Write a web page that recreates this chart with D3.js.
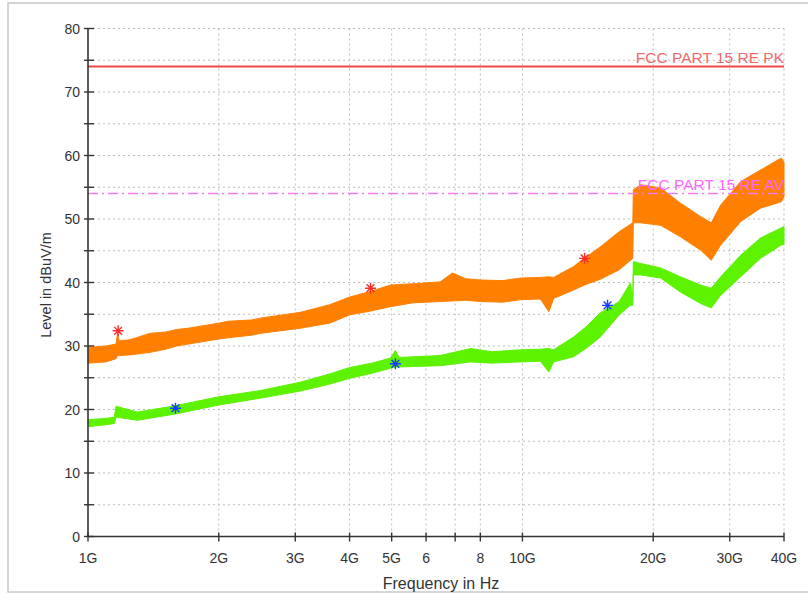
<!DOCTYPE html>
<html>
<head>
<meta charset="utf-8">
<script src="https://cdn.jsdelivr.net/npm/d3@7"></script>
<style>
  body { margin: 0; background: #fff; }
  text { font-family: "Liberation Sans", Arial, sans-serif; }
</style>
</head>
<body>
<svg id="chart" width="808" height="594"></svg>
<script>
// peak trace (orange) envelope, frequency in GHz, level in dBuV/m
var pkFreq = [1.00, 1.10, 1.16, 1.17, 1.18, 1.25, 1.39, 1.51, 1.60, 1.70, 2.00, 2.10, 2.38, 2.50, 3.08, 3.60, 4.00, 4.47, 4.97, 5.60, 6.47, 6.90, 7.40, 8.00, 9.00, 9.90, 11.0, 11.5, 11.8, 13.1, 14.0, 15.1, 16.7, 17.95, 18.0, 18.7, 20.8, 23.1, 25.7, 27.2, 28.6, 31.8, 35.3, 39.4, 40.0];
var pkLo = [27.3, 27.5, 28.0, 28.5, 28.5, 28.6, 29.0, 29.5, 30.0, 30.3, 31.1, 31.3, 31.7, 32.0, 32.8, 33.6, 34.9, 35.5, 36.2, 36.8, 37.0, 37.1, 37.2, 37.0, 36.9, 37.3, 37.4, 35.4, 37.5, 38.8, 39.7, 40.5, 42.0, 43.8, 49.4, 49.4, 49.0, 47.2, 45.1, 43.5, 45.9, 49.6, 51.7, 52.7, 53.5];
var pkHi = [29.8, 30.0, 30.3, 32.0, 30.8, 31.0, 32.0, 32.2, 32.6, 32.8, 33.6, 33.9, 34.1, 34.4, 35.3, 36.5, 37.7, 38.6, 39.6, 39.8, 40.1, 41.5, 40.6, 40.4, 40.3, 40.7, 40.8, 40.9, 40.8, 42.5, 44.0, 45.6, 48.0, 49.4, 54.6, 55.4, 54.9, 52.5, 50.4, 49.4, 52.2, 55.9, 57.7, 59.6, 59.0];

// average trace (green) envelope
var avFreq = [1.00, 1.10, 1.15, 1.16, 1.30, 1.59, 2.00, 2.50, 3.08, 3.60, 4.00, 4.50, 4.97, 5.10, 5.20, 6.47, 7.60, 8.50, 9.90, 11.0, 11.5, 11.8, 13.1, 14.0, 15.1, 16.7, 17.7, 17.95, 18.0, 18.7, 20.8, 23.1, 25.7, 27.2, 28.6, 31.8, 35.3, 39.4, 40.0];
var avLo = [17.3, 17.6, 17.8, 18.8, 18.3, 19.3, 20.7, 21.8, 22.9, 24.0, 24.9, 25.7, 26.5, 26.7, 26.7, 26.9, 27.5, 27.3, 27.5, 27.6, 25.9, 27.5, 28.3, 29.6, 31.4, 34.9, 36.4, 36.4, 41.2, 41.2, 40.7, 38.5, 36.7, 36.0, 38.0, 40.9, 43.8, 45.9, 46.0];
var avHi = [18.4, 18.6, 18.8, 20.5, 19.6, 20.6, 22.0, 23.0, 24.3, 25.6, 26.6, 27.3, 28.1, 29.3, 28.2, 28.5, 29.6, 29.1, 29.4, 29.5, 29.6, 29.4, 31.4, 33.0, 35.2, 37.0, 39.9, 37.8, 43.3, 43.0, 42.3, 40.9, 39.6, 39.1, 40.9, 44.3, 47.0, 48.6, 48.8];

// final measurement markers
var pkMarkFreq = [1.173, 4.47, 13.9];
var pkMarkLevel = [32.4, 39.1, 43.8];
var avMarkFreq = [1.59, 5.1, 15.7];
var avMarkLevel = [20.2, 27.2, 36.4];

// limit lines
var limitPK = 74;
var limitAV = 54;

// axis ticks
var xTicks = [1, 2, 3, 4, 5, 6, 7, 8, 10, 20, 30, 40];
var xTickLabels = ["1G", "2G", "3G", "4G", "5G", "6", "", "8", "10G", "20G", "30G", "40G"];
var yMajor = [0, 10, 20, 30, 40, 50, 60, 70, 80];
var yMinor = [5, 15, 25, 35, 45, 55, 65, 75];

var svg = d3.select("#chart");

var plotL = 88, plotR = 784, plotT = 28.5, plotB = 536.5;

var xScale = d3.scaleLog().domain([1, 40]).range([plotL, plotR]);
var yScale = d3.scaleLinear().domain([0, 80]).range([plotB, plotT]);

// outer frame
svg.append("rect")
    .attr("x", 8).attr("y", 3)
    .attr("width", 820).attr("height", 589)
    .attr("fill", "none")
    .attr("stroke", "#c8c8c8")
    .attr("stroke-width", 1.5);

// grid
var grid = svg.append("g").attr("stroke", "#bdbdbd").attr("stroke-dasharray", "2,3").attr("stroke-width", 1);
grid.selectAll("line.h")
    .data(yMajor.concat(yMinor).filter(d => d > 0))
    .enter().append("line")
    .attr("x1", plotL).attr("x2", plotR)
    .attr("y1", d => yScale(d)).attr("y2", d => yScale(d));
grid.selectAll("line.v")
    .data(xTicks.filter(d => d > 1))
    .enter().append("line")
    .attr("x1", d => xScale(d)).attr("x2", d => xScale(d))
    .attr("y1", plotT).attr("y2", plotB);

// traces as filled envelopes
function band(freq, lo, hi) {
    return freq.map((f, i) => ({ f: f, lo: lo[i], hi: hi[i] }));
}
var area = d3.area()
    .x(d => xScale(d.f))
    .y0(d => yScale(d.lo))
    .y1(d => yScale(d.hi));

svg.append("path")
    .attr("d", area(band(pkFreq, pkLo, pkHi)))
    .attr("fill", "#ff8000")
    .attr("stroke", "#ff8000")
    .attr("stroke-width", 1);

svg.append("path")
    .attr("d", area(band(avFreq, avLo, avHi)))
    .attr("fill", "#5cf200")
    .attr("stroke", "#5cf200")
    .attr("stroke-width", 1);

// limit lines
svg.append("line")
    .attr("x1", plotL).attr("x2", plotR)
    .attr("y1", yScale(limitPK)).attr("y2", yScale(limitPK))
    .attr("stroke", "#f04848").attr("stroke-width", 2);
svg.append("text")
    .attr("x", plotR).attr("y", yScale(limitPK) - 4)
    .attr("text-anchor", "end")
    .attr("font-size", "15.5px")
    .attr("fill", "#f26a6a")
    .text("FCC PART 15 RE PK");

svg.append("line")
    .attr("x1", plotL).attr("x2", plotR)
    .attr("y1", yScale(limitAV)).attr("y2", yScale(limitAV))
    .attr("stroke", "#f07cf0").attr("stroke-width", 1.5)
    .attr("stroke-dasharray", "10,4,2,4");
svg.append("text")
    .attr("x", plotR).attr("y", yScale(limitAV) - 4)
    .attr("text-anchor", "end")
    .attr("font-size", "15.5px")
    .attr("fill", "#ff66ff")
    .text("FCC PART 15 RE AV");

// asterisk markers
function asterisk(cx, cy, r) {
    var p = "";
    for (var k = 0; k < 4; k++) {
        var a = k * Math.PI / 4;
        var dx = r * Math.cos(a), dy = r * Math.sin(a);
        p += "M" + (cx - dx) + "," + (cy - dy) + "L" + (cx + dx) + "," + (cy + dy);
    }
    return p;
}
svg.selectAll("path.pkmark")
    .data(pkMarkFreq)
    .enter().append("path")
    .attr("d", (d, i) => asterisk(xScale(d), yScale(pkMarkLevel[i]), 5.5))
    .attr("stroke", "#ff2a2a").attr("stroke-width", 1.4);
svg.selectAll("path.avmark")
    .data(avMarkFreq)
    .enter().append("path")
    .attr("d", (d, i) => asterisk(xScale(d), yScale(avMarkLevel[i]), 5.5))
    .attr("stroke", "#1a3cff").attr("stroke-width", 1.4);

// y axis
var axisColor = "#333";
svg.append("line")
    .attr("x1", plotL).attr("x2", plotL)
    .attr("y1", plotT).attr("y2", plotB)
    .attr("stroke", axisColor).attr("stroke-width", 1.6);
svg.selectAll("line.ytick")
    .data(yMajor.concat(yMinor))
    .enter().append("line")
    .attr("x1", plotL - 4).attr("x2", plotL + 6)
    .attr("y1", d => yScale(d)).attr("y2", d => yScale(d))
    .attr("stroke", axisColor).attr("stroke-width", 1.4);
svg.selectAll("text.ylab")
    .data(yMajor)
    .enter().append("text")
    .attr("x", plotL - 8).attr("y", d => yScale(d) + 5)
    .attr("text-anchor", "end")
    .attr("font-size", "14px")
    .attr("fill", "#333")
    .text(d => d);

// x axis
svg.append("line")
    .attr("x1", plotL).attr("x2", plotR)
    .attr("y1", plotB).attr("y2", plotB)
    .attr("stroke", axisColor).attr("stroke-width", 1.6);
svg.selectAll("line.xtick")
    .data(xTicks)
    .enter().append("line")
    .attr("x1", d => xScale(d)).attr("x2", d => xScale(d))
    .attr("y1", plotB - 4).attr("y2", plotB + 5)
    .attr("stroke", axisColor).attr("stroke-width", 1.4);
svg.selectAll("text.xlab")
    .data(xTicks)
    .enter().append("text")
    .attr("x", d => xScale(d)).attr("y", plotB + 26)
    .attr("text-anchor", "middle")
    .attr("font-size", "14px")
    .attr("fill", "#333")
    .text((d, i) => xTickLabels[i]);

// axis titles
svg.append("text")
    .attr("x", 441).attr("y", 589)
    .attr("text-anchor", "middle")
    .attr("font-size", "16px")
    .attr("fill", "#333")
    .text("Frequency in Hz");
svg.append("text")
    .attr("transform", "translate(51,285) rotate(-90)")
    .attr("text-anchor", "middle")
    .attr("font-size", "14.5px")
    .attr("fill", "#333")
    .text("Level in dBuV/m");
</script>
</body>
</html>
